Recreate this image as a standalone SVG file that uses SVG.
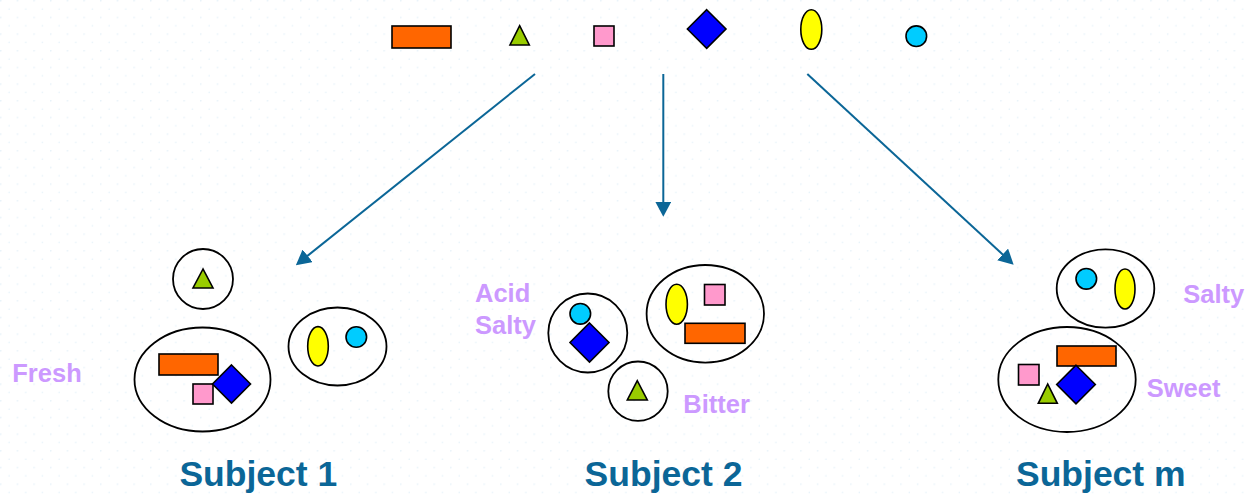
<svg xmlns="http://www.w3.org/2000/svg" width="1249" height="499" viewBox="0 0 1249 499">
  <style>
    .shape { stroke: #000; stroke-width: 1.6; }
    .group { fill: none; stroke: #000; stroke-width: 1.8; }
    .rect { fill: #FF6600; }
    .tri { fill: #99CC00; stroke-linejoin: miter; }
    .sq { fill: #FF99CC; }
    .dia { fill: #0000FF; }
    .ell { fill: #FFFF00; }
    .dot { fill: #00CCFF; }
    .taste { font-family: "Liberation Sans", Arial, sans-serif; font-weight: bold; font-size: 25.5px; fill: #CC99FF; }
    .subject { font-family: "Liberation Sans", Arial, sans-serif; font-weight: bold; font-size: 35.5px; fill: #0B6697; text-anchor: middle; }
    .arrow { stroke: #0B6697; stroke-width: 2; fill: none; marker-end: url(#head); }
  </style>
  <defs>
    <pattern id="grid" width="16.67" height="16.67" patternUnits="userSpaceOnUse">
      <circle cx="0.8" cy="0.8" r="0.8" fill="#E3F0F8"/>
      <circle cx="9.1" cy="9.1" r="0.8" fill="#E3F0F8"/>
    </pattern>
    <marker id="head" viewBox="0 0 15 16" refX="0.5" refY="8" markerWidth="15" markerHeight="16" markerUnits="userSpaceOnUse" orient="auto">
      <path d="M0,0 L15,8 L0,16 Z" fill="#0B6697"/>
    </marker>
  </defs>

  <rect width="1249" height="499" fill="#FFFFFF"/>
  <rect width="1249" height="499" fill="url(#grid)"/>

  <!-- full set of items -->
  <g id="items">
    <rect class="shape rect" x="392" y="26" width="59" height="22"/>
    <polygon class="shape tri" points="519.7,25.7 510,45 529.3,45"/>
    <rect class="shape sq" x="594" y="26" width="20" height="20"/>
    <polygon class="shape dia" points="706.7,9.7 726,29 706.7,48.3 687.4,29"/>
    <ellipse class="shape ell" cx="811.3" cy="29.5" rx="10.5" ry="19.8"/>
    <circle class="shape dot" cx="916.3" cy="36.2" r="10.3"/>
  </g>

  <!-- connectors -->
  <g id="connectors">
    <line class="arrow" x1="535" y1="74" x2="307.2" y2="256.1"/>
    <line class="arrow" x1="663.3" y1="74" x2="663.3" y2="202.3"/>
    <line class="arrow" x1="807.3" y1="74" x2="1003" y2="254.8"/>
  </g>

  <!-- subject 1 -->
  <g id="subject1">
    <circle class="group" cx="203" cy="279" r="30"/>
    <polygon class="shape tri" points="203,269 193,288 213,288"/>
    <ellipse class="group" cx="202.5" cy="379.5" rx="68" ry="52"/>
    <rect class="shape rect" x="159" y="354" width="59" height="21"/>
    <rect class="shape sq" x="193" y="384" width="20" height="20"/>
    <polygon class="shape dia" points="231.5,365 250.5,384 231.5,403 212.5,384"/>
    <ellipse class="group" cx="337.5" cy="346.5" rx="49" ry="39"/>
    <ellipse class="shape ell" cx="318" cy="346.3" rx="10.3" ry="19.7"/>
    <circle class="shape dot" cx="356.3" cy="337" r="10.3"/>
    <text class="taste" x="12.3" y="381.7">Fresh</text>
    <text class="subject" x="258.3" y="486">Subject 1</text>
  </g>

  <!-- subject 2 -->
  <g id="subject2">
    <circle class="group" cx="587.8" cy="333" r="39.5"/>
    <circle class="shape dot" cx="580.3" cy="313.8" r="10.3"/>
    <polygon class="shape dia" points="589.5,323 609,342.5 589.5,362 570,342.5"/>
    <ellipse class="group" cx="705.3" cy="313.8" rx="58.7" ry="48.8"/>
    <ellipse class="shape ell" cx="676.7" cy="304.3" rx="10.7" ry="20"/>
    <rect class="shape sq" x="704.5" y="284.5" width="20.5" height="20.5"/>
    <rect class="shape rect" x="685" y="323.3" width="60" height="20"/>
    <circle class="group" cx="638" cy="391.2" r="29.7"/>
    <polygon class="shape tri" points="637.3,380.7 627.3,400 647.3,400"/>
    <text class="taste" x="475" y="301.7">Acid</text>
    <text class="taste" x="475" y="333.5">Salty</text>
    <text class="taste" x="683.3" y="413.3">Bitter</text>
    <text class="subject" x="663.5" y="486">Subject 2</text>
  </g>

  <!-- subject m -->
  <g id="subjectm">
    <ellipse class="group" cx="1105.5" cy="288.5" rx="48.8" ry="39.2"/>
    <circle class="shape dot" cx="1086.3" cy="278.8" r="10.3"/>
    <ellipse class="shape ell" cx="1125" cy="289" rx="10" ry="20"/>
    <ellipse class="group" cx="1067" cy="379.5" rx="68.7" ry="52.5"/>
    <rect class="shape rect" x="1057" y="346" width="59" height="20"/>
    <rect class="shape sq" x="1018.5" y="364.5" width="20.5" height="20.5"/>
    <polygon class="shape tri" points="1047.7,384 1038.3,403.3 1057.3,403.3"/>
    <polygon class="shape dia" points="1076,365.2 1095.3,384.5 1076,403.8 1056.7,384.5"/>
    <text class="taste" x="1183.3" y="302.7">Salty</text>
    <text class="taste" x="1146.7" y="396.7">Sweet</text>
    <text class="subject" x="1100.8" y="486">Subject m</text>
  </g>
</svg>
